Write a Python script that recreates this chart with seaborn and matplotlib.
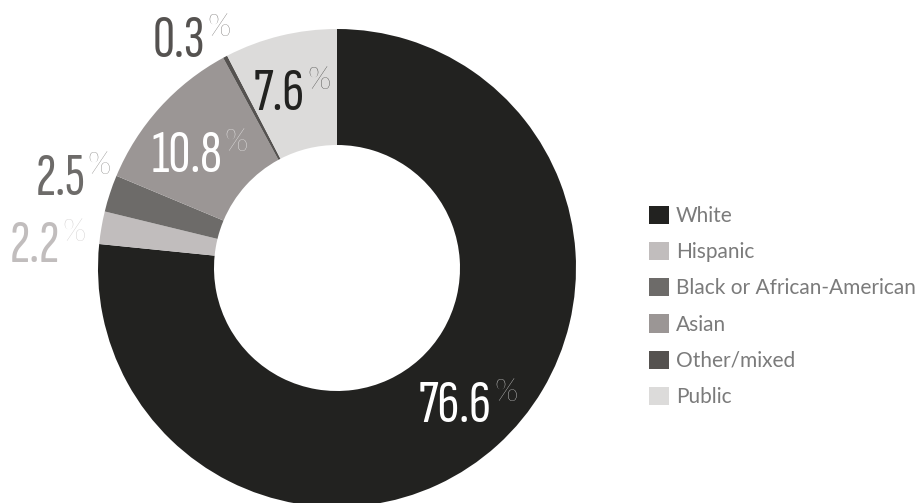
import matplotlib
matplotlib.use("Agg")
import matplotlib.pyplot as plt
import seaborn as sns
from matplotlib import font_manager

# Share of each group, in percent, clockwise from 12 o'clock
groups = ["White", "Hispanic", "Black or African-American", "Asian", "Other/mixed", "Public"]
shares = [76.6, 2.2, 2.5, 10.8, 0.3, 7.6]
slice_colors = ["#222220", "#c1bdbd", "#6d6b69", "#9b9695", "#555250", "#dcdbda"]
label_colors = ["#ffffff", "#c1bdbd", "#6d6b69", "#ffffff", "#555250", "#222220"]

# Where each value label sits (right edge of the number, baseline), pixels from top-left
label_anchor = [(492, 422), (60, 262), (85, 195), (222, 172), (205, 57), (305, 110)]

W, H = 915, 503
sns.set_theme(style="white")

available = {f.name for f in font_manager.fontManager.ttflist}


def first_font(*names):
    for n in names:
        if n in available:
            return n
    return "DejaVu Sans"


num_font = first_font("Sofia Sans Extra Condensed", "League Gothic", "Oswald")
pct_font = first_font("Lato", "Open Sans")
txt_font = first_font("Lato", "Open Sans")
plt.rcParams["font.family"] = [txt_font, "DejaVu Sans"]

fig = plt.figure(figsize=(W / 100, H / 100), dpi=100)
ax = fig.add_axes([0, 0, 1, 1])

cx, cy = 337, H - 268
r_out, r_in = 239, 123
wedges, _ = ax.pie(
    shares,
    colors=slice_colors,
    startangle=90,
    counterclock=False,
    radius=r_out,
    center=(cx, cy),
    wedgeprops=dict(width=r_out - r_in, linewidth=0),
    frame=True,
)
ax.set_aspect("auto")
ax.set_xlim(0, W)
ax.set_ylim(0, H)
ax.set_axis_off()

num_size = 44
pct_size = 22
cap_px = 44
for val, (x, y), col in zip(shares, label_anchor, label_colors):
    yd = H - y
    ax.text(x, yd, f"{val:.1f}", ha="right", va="baseline", color=col,
            fontsize=num_size, family=num_font)
    ax.text(x + 2, yd + cap_px, "%", ha="left", va="top", color=col,
            fontsize=pct_size, family=pct_font, fontweight="light")

leg = ax.legend(
    wedges, groups,
    loc="upper left",
    bbox_to_anchor=(649 / W, 1 - 206 / H),
    bbox_transform=fig.transFigure,
    frameon=False,
    fontsize=15,
    labelcolor="#7b7b7b",
    handlelength=0.96,
    handleheight=0.96,
    handletextpad=0.34,
    labelspacing=0.765,
    borderpad=0,
    borderaxespad=0,
)

fig.savefig("out.png", dpi=100)
